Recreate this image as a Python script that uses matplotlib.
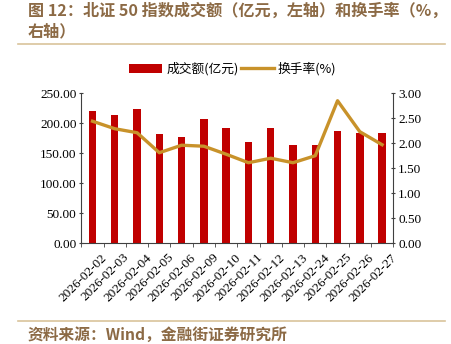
import matplotlib

matplotlib.use("Agg")
import matplotlib.pyplot as plt
import matplotlib.transforms as mtransforms
import numpy as np

plt.rcParams["font.family"] = ["Liberation Serif", "Noto Sans CJK SC"]

fechas = ["2026-02-02", "2026-02-03", "2026-02-04", "2026-02-05", "2026-02-06",
          "2026-02-09", "2026-02-10", "2026-02-11", "2026-02-12", "2026-02-13",
          "2026-02-24", "2026-02-25", "2026-02-26", "2026-02-27"]
volumen = [220.5, 214.5, 223.0, 181.5, 177.0, 207.0, 192.5,
           169.5, 192.0, 164.0, 163.0, 186.5, 184.5, 184.0]
rotacion = [2.44, 2.29, 2.21, 1.81, 1.96, 1.94, 1.78,
            1.61, 1.70, 1.61, 1.75, 2.85, 2.23, 1.97]
ticks_izq = [0, 50, 100, 150, 200, 250]
ticks_der = [0, 0.5, 1.0, 1.5, 2.0, 2.5, 3.0]

titulo_1 = "图 12：北证 50 指数成交额（亿元，左轴）和换手率（%，"
titulo_2 = "右轴）"
fuente = "资料来源：Wind，金融街证券研究所"

ROJO = "#C00000"
DORADO = "#C8922A"
MARRON = "#8C6A45"
LINEA = "#D9C39B"

fig = plt.figure(figsize=(4.52, 3.44), dpi=100)

fig.text(0.062, 0.968, titulo_1, fontsize=11.6, fontweight="bold", color=MARRON,
         family=["Noto Sans CJK SC"], va="center")
fig.text(0.062, 0.91, titulo_2, fontsize=11.6, fontweight="bold", color=MARRON,
         family=["Noto Sans CJK SC"], va="center")
fig.add_artist(plt.Line2D([0.04, 0.985], [0.873, 0.873], color=LINEA, lw=1.2))
fig.add_artist(plt.Line2D([0.04, 0.985], [0.067, 0.067], color=LINEA, lw=1.2))
fig.text(0.062, 0.027, fuente, fontsize=11.3, fontweight="bold", color=MARRON,
         family=["Noto Sans CJK SC"], va="center")

ax = fig.add_axes([0.18, 0.293, 0.69, 0.436])
x = np.arange(len(fechas))
barras = ax.bar(x, volumen, width=0.33, color=ROJO, label="成交额(亿元)")
ax.set_xlim(-0.5, len(fechas) - 0.5)
ax.set_ylim(0, 250)
ax.set_yticks(ticks_izq)
ax.set_yticklabels([f"{v:.2f}" for v in ticks_izq], fontsize=9.5)
ax.set_xticks(x)
ax.set_xticklabels(fechas, rotation=45, ha="right", rotation_mode="anchor", fontsize=9.5)
ax.tick_params(axis="x", length=0, pad=6)
# las fechas van un poco corridas a la derecha, como en el original
desplazamiento = mtransforms.ScaledTranslation(6 / 72, 0, fig.dpi_scale_trans)
for etiqueta in ax.get_xticklabels():
    etiqueta.set_transform(etiqueta.get_transform() + desplazamiento)
ax.set_xticks(np.arange(len(fechas) + 1) - 0.5, minor=True)
ax.tick_params(axis="x", which="minor", length=3, direction="out", color="#404040")
ax.tick_params(axis="y", length=3, direction="inout", color="#404040", pad=2)
for lado in ["top", "right"]:
    ax.spines[lado].set_visible(False)
for lado in ["left", "bottom"]:
    ax.spines[lado].set_color("#404040")

ax2 = ax.twinx()
linea, = ax2.plot(x, rotacion, color=DORADO, lw=2.4, label="换手率(%)")
ax2.set_ylim(0, 3)
ax2.set_yticks(ticks_der)
ax2.set_yticklabels([f"{v:.2f}" for v in ticks_der], fontsize=9.5)
ax2.tick_params(axis="y", length=3, direction="inout", color="#404040", pad=2)
for lado in ["top", "left", "bottom"]:
    ax2.spines[lado].set_visible(False)
ax2.spines["right"].set_color("#404040")

fig.legend([barras, linea], ["成交额(亿元)", "换手率(%)"], loc="center",
           bbox_to_anchor=(0.515, 0.8), ncol=2, frameon=False,
           handlelength=2.6, handletextpad=0.3, columnspacing=0.2,
           prop={"family": ["Noto Sans CJK SC"], "size": 9.2})

fig.savefig("out.png", dpi=100)
